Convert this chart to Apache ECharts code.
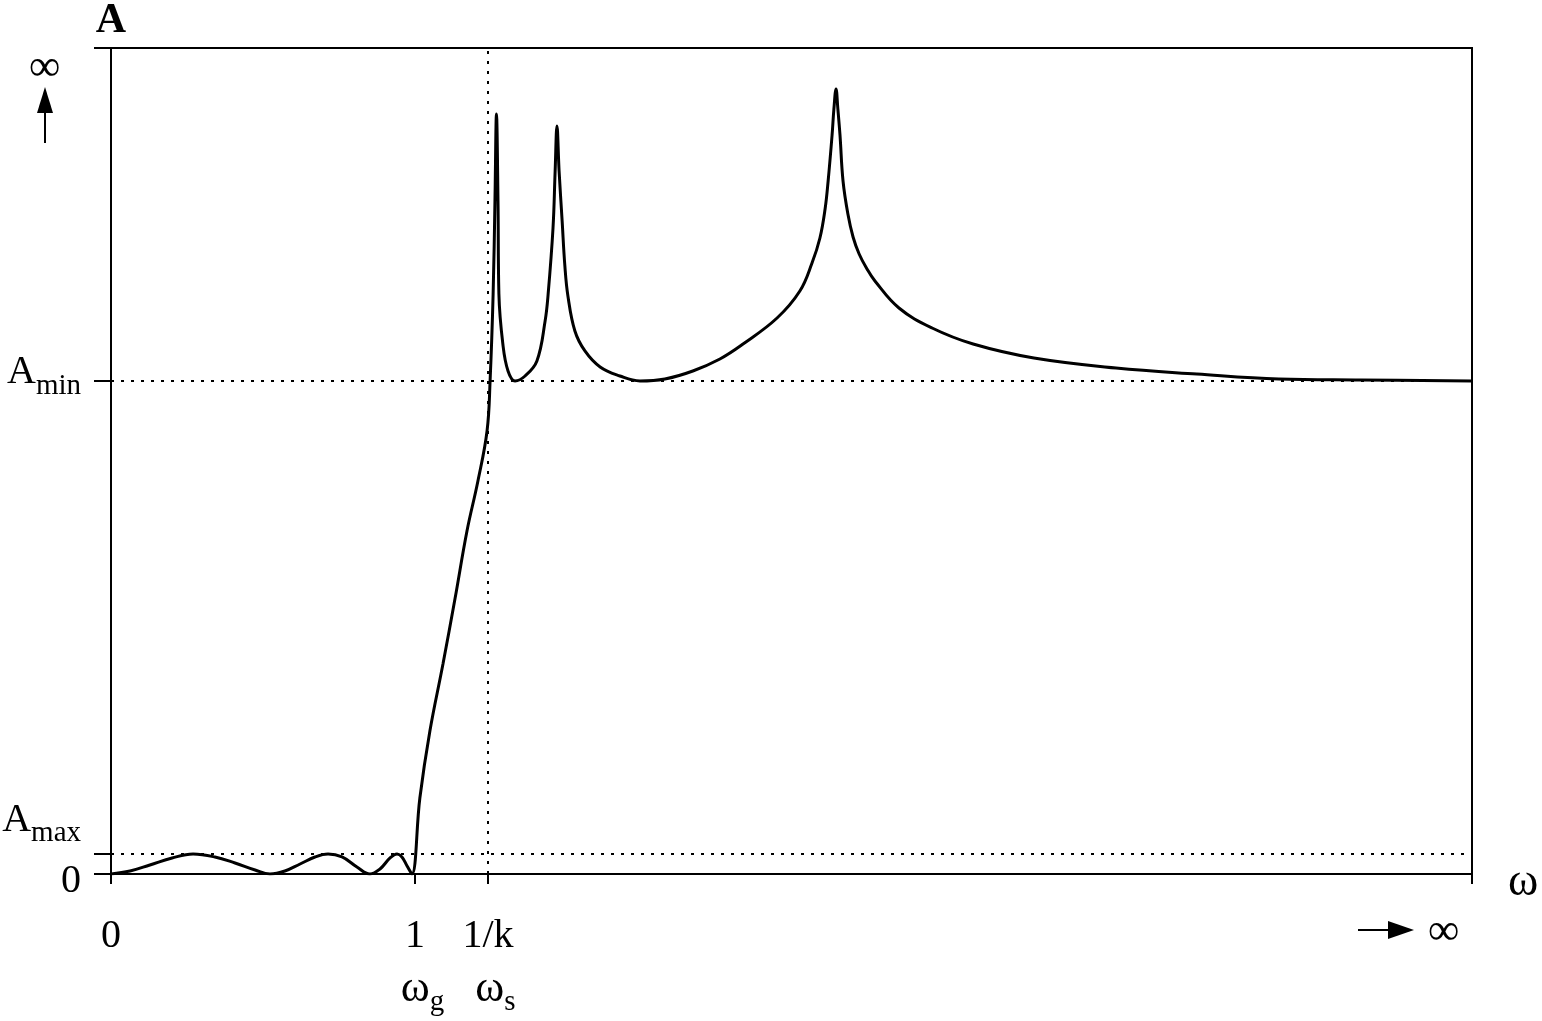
<!DOCTYPE html>
<html>
<head>
<meta charset="utf-8">
<title>Dämpfungsverlauf</title>
<script src="https://cdn.jsdelivr.net/npm/echarts@6/dist/echarts.min.js"></script>
<style>
  html, body { margin: 0; padding: 0; background: #fff; }
  #chart { width: 1542px; height: 1021px; }
</style>
</head>
<body>
<div id="chart"></div>
<script>
const omega = [
  0, 0.0625, 0.128, 0.201, 0.270, 0.342, 0.408, 0.474, 0.523, 0.572,
  0.622, 0.671, 0.714, 0.760, 0.809, 0.852, 0.885, 0.918, 0.941, 0.957,
  0.974, 0.990, 1.016, 1.049, 1.092, 1.132, 1.171, 1.207, 1.237, 1.247,
  1.257, 1.263, 1.268, 1.273, 1.276, 1.289, 1.306, 1.329, 1.362, 1.401,
  1.428, 1.438, 1.454, 1.461, 1.467, 1.474, 1.484, 1.493, 1.503, 1.526,
  1.559, 1.609, 1.674, 1.740, 1.822, 1.914, 2.003, 2.079, 2.191, 2.266,
  2.306, 2.332, 2.349, 2.359, 2.372, 2.378, 2.385, 2.391, 2.398, 2.408,
  2.424, 2.441, 2.461, 2.487, 2.513, 2.592, 2.701, 2.836, 3.036, 3.306,
  3.572, 3.842, 4.112, 4.477
];
const atten = [
  0, 0.036, 0.109, 0.194, 0.242, 0.206, 0.133, 0.048, 0, 0.036,
  0.121, 0.206, 0.242, 0.206, 0.085, 0, 0.061, 0.194, 0.242, 0.206,
  0.097, 0, 0.920, 1.731, 2.542, 3.341, 4.153, 4.758, 5.363, 5.969,
  7.022, 8.148, 9.201, 8.148, 7.022, 6.416, 6.090, 5.969, 6.029, 6.211,
  6.695, 7.022, 7.821, 8.511, 9.056, 8.511, 7.906, 7.361, 6.998, 6.574,
  6.332, 6.138, 6.029, 5.969, 5.993, 6.090, 6.235, 6.416, 6.731, 7.058,
  7.397, 7.700, 8.051, 8.390, 8.947, 9.262, 9.504, 9.262, 8.947, 8.390,
  7.990, 7.712, 7.506, 7.324, 7.179, 6.852, 6.610, 6.416, 6.247, 6.126,
  6.053, 5.993, 5.981, 5.969
];

// Achsenmarken
const xTicks = [0, 1, 1.24, 4.477];
const xTickLabels = ['0', '1', '1/k'];
const xSubLabels = ['', 'g', 's'];
const yTicks = [0, 0.242, 5.969, 10];
const A_MAX = 0.242;
const A_MIN = 5.969;
const OMEGA_S = 1.24;

const FONT = '"Liberation Serif", "DejaVu Serif", serif';

const chart = echarts.init(document.getElementById('chart'));

function nearest(list, v) {
  let best = 0;
  list.forEach((t, i) => { if (Math.abs(t - v) < Math.abs(list[best] - v)) best = i; });
  return best;
}

chart.setOption({
  animation: false,
  backgroundColor: '#fff',
  textStyle: { fontFamily: FONT, color: '#000' },
  grid: {
    left: 111, right: 70, top: 48, bottom: 147,
    show: true, borderColor: '#000', borderWidth: 2,
    containLabel: false, outerBoundsMode: 'none'
  },
  xAxis: {
    type: 'value',
    min: 0, max: 4.477,
    name: 'ω',
    nameLocation: 'end',
    nameGap: 36,
    nameTextStyle: { fontFamily: FONT, fontSize: 46, color: '#000', verticalAlign: 'top', lineHeight: 18 },
    axisLine: { show: true, lineStyle: { color: '#000', width: 2 } },
    axisTick: { show: true, customValues: xTicks, length: 10, lineStyle: { color: '#000', width: 2 } },
    axisLabel: {
      show: true,
      showMinLabel: true,
      customValues: xTicks.slice(0, 3),
      margin: 22,
      formatter: function (v) {
        const i = nearest(xTicks, v);
        if (i === 0) return '{n|' + xTickLabels[0] + '}';
        return '{n|' + xTickLabels[i] + '}\n{w|ω}{s|' + xSubLabels[i] + '}';
      },
      rich: {
        n: { fontFamily: FONT, fontSize: 40, lineHeight: 81, color: '#000' },
        w: { fontFamily: FONT, fontSize: 44, lineHeight: 40, color: '#000', verticalAlign: 'bottom', padding: [0, 0, 6, 15] },
        s: { fontFamily: FONT, fontSize: 29, lineHeight: 40, color: '#000', verticalAlign: 'bottom' }
      }
    },
    splitLine: { show: false }
  },
  yAxis: [{
    type: 'value',
    min: 0, max: 10,
    name: 'A',
    nameLocation: 'end',
    nameGap: 6,
    nameTextStyle: { fontFamily: FONT, fontSize: 42, fontWeight: 'bold', color: '#000' },
    axisLine: { show: true, lineStyle: { color: '#000', width: 2 } },
    axisTick: { show: true, customValues: yTicks, length: 17, lineStyle: { color: '#000', width: 2 } },
    axisLabel: {
      show: true,
      showMinLabel: true,
      customValues: [yTicks[0], yTicks[2]],
      margin: 30,
      formatter: function (v) {
        return nearest(yTicks, v) === 0 ? '{zero|0}' : '{aMin|A}{sMin|min}';
      },
      rich: {
        zero: { fontFamily: FONT, fontSize: 40, lineHeight: 40, color: '#000', padding: [14, 0, 0, 0] },
        aMin: { fontFamily: FONT, fontSize: 40, lineHeight: 40, color: '#000', verticalAlign: 'bottom', padding: [8, 0, 8, 0] },
        sMin: { fontFamily: FONT, fontSize: 29, lineHeight: 40, color: '#000', verticalAlign: 'bottom' }
      }
    },
    splitLine: { show: false }
  }, {
    // zweite Achse nur für die Beschriftung A_max (sonst vom Überlappungstest versteckt)
    type: 'value',
    min: 0, max: 10,
    position: 'left',
    axisLine: { show: false },
    axisTick: { show: false },
    axisLabel: {
      show: true,
      customValues: [yTicks[1]],
      margin: 30,
      formatter: function () { return '{aMax|A}{sMax|max}'; },
      rich: {
        aMax: { fontFamily: FONT, fontSize: 40, lineHeight: 40, color: '#000', verticalAlign: 'bottom', padding: [0, 0, 34, 0] },
        sMax: { fontFamily: FONT, fontSize: 29, lineHeight: 40, color: '#000', verticalAlign: 'bottom', padding: [0, 0, 26, 0] }
      }
    },
    splitLine: { show: false }
  }],
  series: [{
    type: 'line',
    data: omega.map((w, i) => [w, atten[i]]),
    showSymbol: false,
    smooth: 0.4,
    lineStyle: { color: '#000', width: 3 },
    markLine: {
      silent: true,
      symbol: ['none', 'none'],
      label: { show: false },
      lineStyle: { color: '#000', width: 2, type: [3, 7] },
      data: [{ yAxis: A_MIN }, { yAxis: A_MAX }, { xAxis: OMEGA_S }]
    }
  }],
  graphic: [
    // Pfeil nach oben mit Unendlich-Zeichen links oben
    { type: 'text', left: 29, top: 46, style: { text: '∞', font: '44px ' + FONT, fill: '#000' } },
    { type: 'line', shape: { x1: 45, y1: 143, x2: 45, y2: 110 }, style: { stroke: '#000', lineWidth: 2 } },
    { type: 'polygon', shape: { points: [[45, 87], [37, 113], [53, 113]] }, style: { fill: '#000' } },
    // Pfeil nach rechts mit Unendlich-Zeichen unten rechts
    { type: 'line', shape: { x1: 1358, y1: 930, x2: 1392, y2: 930 }, style: { stroke: '#000', lineWidth: 2 } },
    { type: 'polygon', shape: { points: [[1414, 930], [1388, 921], [1388, 939]] }, style: { fill: '#000' } },
    { type: 'text', left: 1428, top: 910, style: { text: '∞', font: '44px ' + FONT, fill: '#000' } }
  ]
});
</script>
</body>
</html>
